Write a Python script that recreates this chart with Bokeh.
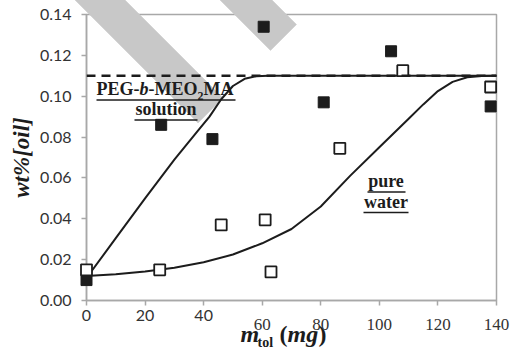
from bokeh.plotting import figure
from bokeh.models import Range1d, FixedTicker, PrintfTickFormatter, Span
from bokeh.core.properties import value
from bokeh.embed import file_html
from bokeh.resources import INLINE

# ---------------- data ----------------
x_ticks = [0, 20, 40, 60, 80, 100, 120, 140]
x_ticks_serif = [60, 80, 100, 120, 140]
y_ticks = [0.00, 0.02, 0.04, 0.06, 0.08, 0.10, 0.12, 0.14]

# PEG-b-MEO2MA solution (filled squares)
filled_x = [0, 25.5, 43, 60.5, 81, 104, 138]
filled_y = [0.010, 0.086, 0.079, 0.134, 0.097, 0.122, 0.095]

# pure water (open squares)
open_x = [0, 25, 46, 61, 63, 86.5, 108, 138]
open_y = [0.015, 0.015, 0.037, 0.0395, 0.014, 0.0745, 0.1125, 0.1045]

# model curves
peg_curve_x = [0, 10, 20, 30, 38, 42, 46, 50, 54, 58, 62, 70, 140]
peg_curve_y = [0.011, 0.0305, 0.050, 0.069, 0.083, 0.090, 0.0985, 0.105,
               0.1085, 0.1098, 0.110, 0.110, 0.110]
water_curve_x = [0, 10, 20, 30, 40, 50, 60, 70, 80, 90, 100, 110, 115, 120,
                 125, 130, 135, 140]
water_curve_y = [0.012, 0.0128, 0.0142, 0.016, 0.0187, 0.0225, 0.028, 0.035,
                 0.046, 0.061, 0.075, 0.089, 0.096, 0.1025, 0.107, 0.1093,
                 0.1099, 0.110]
plateau = 0.11

# ---------------- layout ----------------
W, H = 512, 354
FL, FR, FT, FB = 86, 496, 14, 300   # frame edges in page pixels
X0, X1, Y0, Y1 = 0, 140, 0.0, 0.14


def dx(px):
    return X0 + (px - FL) / (FR - FL) * (X1 - X0)


def dy(py):
    return Y0 + (FB - py) / (FB - FT) * (Y1 - Y0)


SERIF = "Liberation Serif"
GRAY = "#a8a8a8"
INK = "#1c1c1c"

p = figure(width=W, height=H, output_backend="svg", toolbar_location=None,
           x_range=Range1d(X0, X1), y_range=Range1d(Y0, Y1),
           min_border_left=FL, min_border_right=W - FR, min_border_top=FT,
           min_border_bottom=H - FB)
p.xgrid.visible = False
p.ygrid.visible = False
p.outline_line_color = GRAY
p.outline_line_width = 1.5

for ax in (p.xaxis[0], p.yaxis[0]):
    ax.axis_line_color = GRAY
    ax.axis_line_width = 1.5
    ax.major_tick_line_color = GRAY
    ax.major_tick_line_width = 1.5
    ax.major_tick_out = 5
    ax.major_tick_in = 0
    ax.minor_tick_line_color = None
    ax.major_label_text_font = "Lato"
    ax.major_label_text_font_size = "16px"
    ax.major_label_text_color = "#333333"

p.xaxis.ticker = FixedTicker(ticks=x_ticks)
p.xaxis.major_label_overrides = {t: "" for t in x_ticks_serif}
p.xaxis.major_label_standoff = 4
p.yaxis.ticker = FixedTicker(ticks=y_ticks)
p.yaxis.formatter = PrintfTickFormatter(format="%.2f")
p.yaxis.major_label_standoff = 10
p.yaxis.axis_label = "wt%[oil]"
p.yaxis.axis_label_text_font = SERIF
p.yaxis.axis_label_text_font_style = "bold italic"
p.yaxis.axis_label_text_font_size = "23px"
p.yaxis.axis_label_text_color = INK
p.yaxis.axis_label_standoff = 3

# watermark stripes (page px)
bands = [
    [(65, -10), (115, -10), (222.5, 97.5), (197.5, 122.5)],
    [(210, -10), (262, -10), (296, 24), (270, 50)],
]
for band in bands:
    bp = p.patch(x=[dx(a) for a, b in band], y=[dy(b) for a, b in band],
                 fill_color="#c8c8c8", line_color="#c8c8c8", line_width=0.5)
    bp.level = "guide"

# plateau dashed line
p.add_layout(Span(location=plateau, dimension="width", line_color=INK,
                  line_width=2.5, line_dash="9 6", level="annotation"))

r1 = p.line(peg_curve_x, peg_curve_y, line_color=INK, line_width=2)
r2 = p.line(water_curve_x, water_curve_y, line_color=INK, line_width=2)
r3 = p.scatter(filled_x, filled_y, marker="square", size=11, fill_color=INK,
               line_color=INK, line_width=1)
r4 = p.scatter(open_x, open_y, marker="square", size=11, fill_color="white",
               line_color=INK, line_width=1.8)
for r in (r1, r2, r3, r4):
    r.level = "annotation"


def txt(px, py, s, size=18, style="bold", align="left", font=SERIF,
        color=INK):
    shift = 0.4 * size
    r = p.text(x=[dx(px)], y=[dy(py - shift)], text=[s], text_font=value(font),
               text_font_style=style, text_font_size=value(f"{size}px"),
               text_align=align, text_baseline="alphabetic", text_color=color)
    r.level = "overlay"


def uline(x0, x1, py, th=1.5):
    r = p.segment(x0=[dx(x0)], y0=[dy(py)], x1=[dx(x1)], y1=[dy(py)],
                  line_color=INK, line_width=th)
    r.level = "overlay"


# PEG-b-MEO2MA solution
txt(96, 96, "PEG-")
txt(139, 96, "b", style="bold italic")
txt(148, 96, "-MEO")
txt(197, 100, "2", size=12)
txt(203, 96, "MA")
uline(96, 235, 99.5)
txt(165.5, 116, "solution", align="center")
uline(134, 197, 119.5)

# pure water
txt(385.5, 188, "pure", align="center")
uline(367, 405, 191.5)
txt(385.5, 208.5, "water", align="center")
uline(363, 408, 212)

# x axis title
txt(240, 343, "m", size=24, style="bold italic")
txt(257, 348, "tol", size=14, style="bold")
txt(279, 343, "(", size=24, style="bold")
txt(287, 343, "mg", size=24, style="bold italic")
txt(318, 343, ")", size=24, style="bold")

# serif x tick labels
tr = p.text(x=x_ticks_serif, y=[dy(331 - 0.4 * 17)] * len(x_ticks_serif),
            text=[str(t) for t in x_ticks_serif], text_font=value(SERIF),
            text_font_size=value("17px"), text_align="center",
            text_baseline="alphabetic", text_color="#333333")
tr.level = "overlay"

open("out.html", "w").write(file_html(p, INLINE))
